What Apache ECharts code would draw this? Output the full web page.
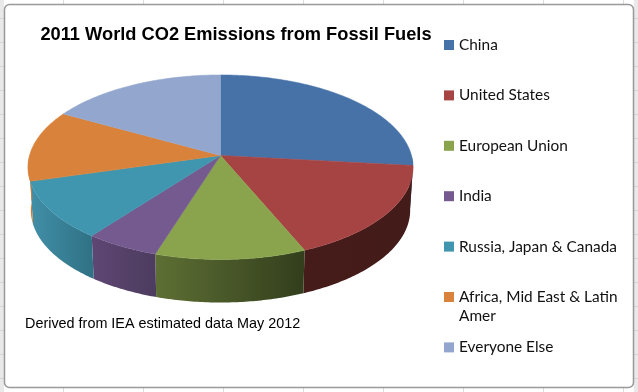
<!DOCTYPE html>
<html>
<head>
<meta charset="utf-8">
<script src="https://cdn.jsdelivr.net/npm/echarts@6/dist/echarts.min.js"></script>
<style>
    html, body { margin: 0; padding: 0; background: #fff; }
    #main { width: 638px; height: 392px; }
</style>
</head>
<body>
<div id="main"></div>
<script>
var regions = ['China', 'United States', 'European Union', 'India', 'Russia, Japan & Canada', 'Africa, Mid East & Latin Amer', 'Everyone Else'];
// share of world emissions, percent
var shares = [26.7, 16.9, 11.2, 5.5, 10.2, 12.5, 16.9];
var topColors = ['#4672a8', '#a64444', '#8aa44e', '#745a8e', '#4096af', '#d9823b', '#92a6ce'];
var wallColors = [
    ['#2c4a70', '#2c4a70'], ['#451c1a', '#431b19'], ['#5e6f34', '#323e1c'], ['#5f4674', '#4c3c5e'],
    ['#418fa8', '#2f7184'], ['#d9823b', '#c87a38'], ['#5f6f8e', '#5f6f8e']
];

var total = shares.reduce(function (a, b) { return a + b; }, 0);

// pie plane in perspective
var cx = 220.5, cy = 155.5, ax = 191, by = 90.8, persp = 0.127, depth = 43, baseScale = 0.985;

function project(angle) {
    var X = Math.sin(angle), Y = Math.cos(angle), w = 1 + persp * Y;
    return [cx + ax * X / w, cy - by * Y / w];
}

function arcPoints(from, to) {
    var n = Math.max(2, Math.ceil((to - from) * 80)), pts = [];
    for (var i = 0; i <= n; i++) {
        pts.push(project(from + (to - from) * i / n));
    }
    return pts;
}

function renderSlice(index) {
    return function () {
        var before = 0;
        for (var i = 0; i < index; i++) {
            before += shares[i];
        }
        var from = before / total * Math.PI * 2;
        var to = (before + shares[index]) / total * Math.PI * 2;
        var children = [{
            type: 'polygon',
            z2: 2,
            shape: {points: [[cx, cy]].concat(arcPoints(from, to))},
            style: {fill: topColors[index], stroke: topColors[index], lineWidth: 0.5}
        }];
        // only the near half of the rim is visible
        var wallFrom = Math.max(from, Math.PI / 2), wallTo = Math.min(to, Math.PI * 1.5);
        if (wallTo > wallFrom) {
            var upper = arcPoints(wallFrom, wallTo);
            var lower = upper.map(function (p) {
                return [cx + (p[0] - cx) * baseScale, p[1] + depth];
            }).reverse();
            children.push({
                type: 'polygon',
                z2: 1,
                shape: {points: upper.concat(lower)},
                style: {
                    fill: {
                        type: 'linear', x: 0, y: 0, x2: 1, y2: 0,
                        colorStops: [
                            {offset: 0, color: wallColors[index][0]},
                            {offset: 1, color: wallColors[index][1]}
                        ]
                    }
                }
            });
        }
        return {type: 'group', children: children};
    };
}

// spreadsheet behind the chart
var sheet = [
    {type: 'rect', z: -3, shape: {x: 0, y: 0, width: 4, height: 392}, style: {fill: '#e9e9e9'}},
    {type: 'rect', z: -3, shape: {x: 634, y: 0, width: 4, height: 392}, style: {fill: '#e9e9e9'}}
];
[63, 143, 223, 303, 383, 463, 543, 623].forEach(function (x) {
    sheet.push({type: 'line', z: -2, shape: {x1: x + 0.5, y1: 0, x2: x + 0.5, y2: 392}, style: {stroke: '#d9dce0'}});
});
for (var y = 18; y < 392; y += 24) {
    sheet.push({type: 'line', z: -2, shape: {x1: 0, y1: y + 0.5, x2: 638, y2: y + 0.5}, style: {stroke: '#d4d6da'}});
}

var chart = echarts.init(document.getElementById('main'));
chart.setOption({
    animation: false,
    backgroundColor: '#fff',
    title: {
        text: '2011 World CO2 Emissions from Fossil Fuels',
        left: 231,
        top: 21,
        textAlign: 'center',
        textStyle: {fontFamily: 'Liberation Sans', fontSize: 18.25, fontWeight: 'bold', color: '#000'}
    },
    legend: {
        orient: 'vertical',
        left: 444,
        top: 36,
        padding: 0,
        icon: 'rect',
        itemWidth: 10,
        itemHeight: 10,
        itemGap: 32.4,
        selectedMode: false,
        data: regions,
        formatter: function (name) {
            return name.replace(' Amer', '');
        },
        textStyle: {fontFamily: 'Lato', fontSize: 15.4, color: '#111', lineHeight: 18}
    },
    graphic: sheet.concat([{
        type: 'rect',
        z: -1,
        shape: {x: 4.5, y: 4.5, width: 629, height: 383, r: 5},
        style: {fill: '#fff', stroke: '#999', lineWidth: 1.5}
    }, {
        type: 'text',
        z: 5,
        style: {x: 459, y: 309, align: 'left', verticalAlign: 'top', text: 'Amer', font: '15.4px Lato', fill: '#111'}
    }, {
        type: 'text',
        style: {x: 25, y: 317.5, align: 'left', verticalAlign: 'top', text: 'Derived from IEA estimated data May 2012', font: '14.4px "Liberation Sans"', fill: '#000'}
    }]),
    series: regions.map(function (name, i) {
        return {
            type: 'custom',
            name: name,
            coordinateSystem: 'none',
            itemStyle: {color: topColors[i]},
            renderItem: renderSlice(i),
            data: [shares[i]]
        };
    })
});
</script>
</body>
</html>
